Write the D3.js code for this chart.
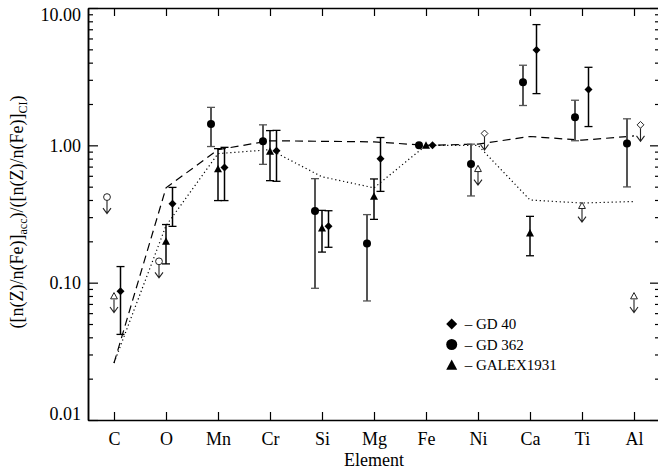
<!DOCTYPE html>
<html lang="en">
<head>
<meta charset="UTF-8"/>
<title>Accreted abundances relative to CI</title>
<script src="https://d3js.org/d3.v7.min.js"></script>
<style>
    body { margin: 0; background: #fff; }
    text { font-family: "Liberation Serif", "Times New Roman", serif; fill: #000; }
</style>
</head>
<body>
<script>
    var w = 658;
    var h = 470;

    var elements = ["C", "O", "Mn", "Cr", "Si", "Mg", "Fe", "Ni", "Ca", "Ti", "Al"];

    // [element, value, low, high]
    var gd40 = [
        ["C", 0.0865, 0.042, 0.131],
        ["O", 0.376, 0.257, 0.494],
        ["Mn", 0.69, 0.396, 0.967],
        ["Cr", 0.915, 0.547, 1.285],
        ["Si", 0.257, 0.181, 0.334],
        ["Mg", 0.80, 0.462, 1.14],
        ["Fe", 1.0, 1.0, 1.0],
        ["Ca", 4.95, 2.38, 7.57],
        ["Ti", 2.55, 1.37, 3.70]
    ];
    var gd40Limits = [["Ni", 1.22], ["Al", 1.41]];

    var gd362 = [
        ["Mn", 1.43, 0.98, 1.89],
        ["Cr", 1.07, 0.727, 1.41],
        ["Si", 0.333, 0.091, 0.572],
        ["Mg", 0.193, 0.0736, 0.313],
        ["Fe", 1.0, 1.0, 1.0],
        ["Ni", 0.732, 0.428, 1.02],
        ["Ca", 2.88, 1.95, 3.83],
        ["Ti", 1.60, 1.08, 2.13],
        ["Al", 1.03, 0.498, 1.56]
    ];
    var gd362Limits = [["C", 0.42], ["O", 0.143]];

    var galex = [
        ["O", 0.20, 0.137, 0.265],
        ["Mn", 0.673, 0.396, 0.946],
        ["Cr", 0.904, 0.553, 1.28],
        ["Si", 0.25, 0.167, 0.336],
        ["Mg", 0.425, 0.289, 0.569],
        ["Fe", 1.0, 1.0, 1.0],
        ["Ca", 0.23, 0.157, 0.304]
    ];
    var galexLimits = [["C", 0.080], ["Ni", 0.676], ["Ti", 0.364], ["Al", 0.080]];

    // model curves, one value per element
    var dashedModel = [0.026, 0.49, 0.93, 1.08, 1.07, 1.06, 1.0, 1.02, 1.16, 1.09, 1.17];
    var dottedModel = [0.026, 0.26, 0.87, 0.93, 0.59, 0.49, 1.0, 1.0, 0.40, 0.38, 0.39];

    var yMajor = [0.01, 0.1, 1, 10];
    var legendLabels = ["\u2013 GD 40", "\u2013 GD 362", "\u2013 GALEX1931"];

    var series = [
        { data: gd40, limits: gd40Limits, shape: "diamond", dx: 6.5, bar: "#000", barW: 1.5 },
        { data: gd362, limits: gd362Limits, shape: "circle", dx: -7, bar: "#555", barW: 2 },
        { data: galex, limits: galexLimits, shape: "triangle", dx: 0, bar: "#000", barW: 1.5 }
    ];

    var x = d3.scaleLinear().domain([-0.5, 10.5]).range([88, 660]);
    var y = d3.scaleLog().domain([0.01, 10]).range([420, 8]);

    var yMinor = [];
    [0.01, 0.1, 1].forEach(function(d) {
        for (var k = 2; k <= 9; k++) yMinor.push(d * k);
    });

    function shapePath(shape, s) {
        if (shape == "diamond") {
            return "M0," + (-s) + "L" + s + ",0L0," + s + "L" + (-s) + ",0Z";
        }
        if (shape == "triangle") {
            return "M0," + (-s) + "L" + s + "," + (s * 0.85) + "L" + (-s) + "," + (s * 0.85) + "Z";
        }
        return "M" + s + ",0A" + s + "," + s + " 0 1,1 " + (-s) + ",0A" + s + "," + s + " 0 1,1 " + s + ",0Z";
    }

    var svg = d3.select("body")
                .append("svg")
                .attr("width", w)
                .attr("height", h);

    // axes
    var axisStyle = function(g) {
        g.selectAll("path.domain").attr("stroke", "#000").attr("stroke-width", 1.5);
        g.selectAll(".tick line").attr("stroke", "#000").attr("stroke-width", 1.2);
        g.selectAll("text").attr("font-size", "18px").attr("font-family", "Liberation Serif, serif");
    };

    svg.append("g")
       .attr("transform", "translate(0,420)")
       .call(d3.axisBottom(x)
               .tickValues(d3.range(elements.length))
               .tickFormat(function(i) { return elements[i]; })
               .tickSize(-8)
               .tickSizeOuter(0)
               .tickPadding(12))
       .call(axisStyle);

    svg.append("g")
       .attr("transform", "translate(0,8)")
       .call(d3.axisTop(x)
               .tickValues(d3.range(elements.length))
               .tickFormat("")
               .tickSize(-8)
               .tickSizeOuter(0))
       .call(axisStyle);

    var left = svg.append("g")
       .attr("transform", "translate(88,0)")
       .call(d3.axisLeft(y)
               .tickValues(yMajor)
               .tickFormat(d3.format(".2f"))
               .tickSize(-10)
               .tickSizeOuter(0)
               .tickPadding(7))
       .call(axisStyle);

    // end labels sit inside the frame
    left.selectAll(".tick text")
        .attr("dy", function(d) {
            if (d == 10) return "0.68em";
            if (d == 0.01) return "-0.05em";
            return "0.32em";
        });

    svg.append("g")
       .attr("transform", "translate(88,0)")
       .call(d3.axisLeft(y).tickValues(yMinor).tickFormat("").tickSize(-5).tickSizeOuter(0))
       .call(axisStyle);

    svg.append("g")
       .attr("transform", "translate(660,0)")
       .call(d3.axisRight(y).tickValues(yMajor).tickFormat("").tickSize(-10).tickSizeOuter(0))
       .call(axisStyle);

    svg.append("g")
       .attr("transform", "translate(660,0)")
       .call(d3.axisRight(y).tickValues(yMinor).tickFormat("").tickSize(-5).tickSizeOuter(0))
       .call(axisStyle);

    svg.append("text")
       .attr("text-anchor", "middle")
       .attr("x", 374)
       .attr("y", 466)
       .attr("font-size", "18px")
       .text("Element");

    var ylab = svg.append("text")
       .attr("text-anchor", "middle")
       .attr("transform", "rotate(-90)")
       .attr("x", -212)
       .attr("y", 23)
       .attr("font-size", "18px");
    ylab.append("tspan").text("([n(Z)/n(Fe)]");
    ylab.append("tspan").attr("dy", 4).attr("font-size", "12px").text("acc");
    ylab.append("tspan").attr("dy", -4).text(")/([n(Z)/n(Fe)]");
    ylab.append("tspan").attr("dy", 4).attr("font-size", "12px").text("CI");
    ylab.append("tspan").attr("dy", -4).text(")");

    // model lines
    var line = d3.line()
                 .x(function(d, i) { return x(i); })
                 .y(function(d) { return y(d); });

    svg.append("path")
       .attr("d", line(dashedModel))
       .attr("fill", "none")
       .attr("stroke", "#000")
       .attr("stroke-width", 1.2)
       .attr("stroke-dasharray", "8,5");

    svg.append("path")
       .attr("d", line(dottedModel))
       .attr("fill", "none")
       .attr("stroke", "#000")
       .attr("stroke-width", 1.2)
       .attr("stroke-dasharray", "1.2,2.8");

    // data
    series.forEach(function(s) {
        var g = svg.append("g");
        var px = function(d) { return x(elements.indexOf(d[0])) + s.dx; };

        var bars = s.data.filter(function(d) { return d[2] != d[3]; });

        g.selectAll("line.bar")
         .data(bars)
         .enter()
         .append("line")
         .attr("x1", px).attr("x2", px)
         .attr("y1", function(d) { return y(d[2]); })
         .attr("y2", function(d) { return y(d[3]); })
         .attr("stroke", s.bar)
         .attr("stroke-width", s.barW);

        [2, 3].forEach(function(k) {
            g.selectAll("line.cap" + k)
             .data(bars)
             .enter()
             .append("line")
             .attr("x1", function(d) { return px(d) - 4; })
             .attr("x2", function(d) { return px(d) + 4; })
             .attr("y1", function(d) { return y(d[k]); })
             .attr("y2", function(d) { return y(d[k]); })
             .attr("stroke", s.bar)
             .attr("stroke-width", 1.3);
        });

        g.selectAll("path.mark")
         .data(s.data)
         .enter()
         .append("path")
         .attr("transform", function(d) { return "translate(" + px(d) + "," + y(d[1]) + ")"; })
         .attr("d", shapePath(s.shape, 4))
         .attr("fill", "#000");

        // upper limits: open symbol with arrow pointing down
        var lim = g.selectAll("g.limit")
         .data(s.limits)
         .enter()
         .append("g")
         .attr("transform", function(d) { return "translate(" + px(d) + "," + y(d[1]) + ")"; });

        lim.append("path")
           .attr("d", shapePath(s.shape, 3.4))
           .attr("fill", "#fff")
           .attr("stroke", "#222")
           .attr("stroke-width", 1);

        lim.append("path")
           .attr("d", "M0,3.4L0,16.5M-4,11L0,16.5L4,11")
           .attr("fill", "none")
           .attr("stroke", "#222")
           .attr("stroke-width", 1.1);
    });

    // legend
    var shapes = ["diamond", "circle", "triangle"];
    var legend = svg.selectAll("g.legend")
        .data(legendLabels)
        .enter()
        .append("g")
        .attr("transform", function(d, i) { return "translate(451.7," + (324 + i * 20.5) + ")"; });

    legend.append("path")
          .attr("d", function(d, i) { return shapePath(shapes[i], 5.5); })
          .attr("fill", "#000");

    legend.append("text")
          .attr("x", 13)
          .attr("y", 5)
          .attr("font-size", "15px")
          .text(function(d) { return d; });
</script>
</body>
</html>
